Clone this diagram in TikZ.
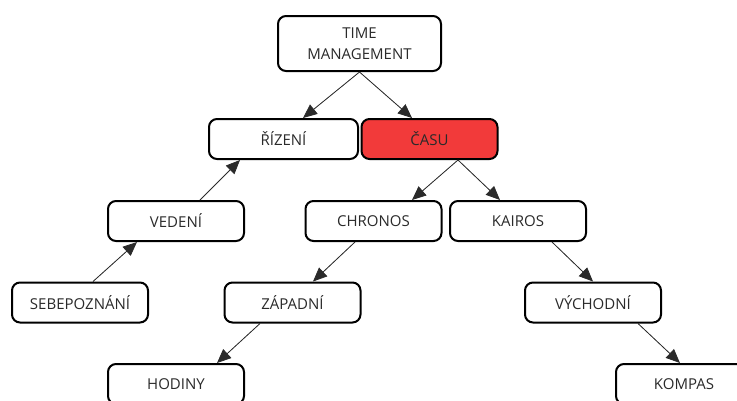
\documentclass[tikz,border=0pt]{standalone}
\usepackage{fontspec}
\setmainfont{Open Sans}
\usetikzlibrary{positioning, arrows.meta}
\definecolor{casred}{HTML}{F23A3A}
\definecolor{txtgray}{HTML}{2A2A2A}

\begin{document}
\begin{tikzpicture}[x=1pt, y=-1pt,
        b/.style={draw=black, fill=white, line width=2pt, rounded corners=8pt, text=txtgray, font=\fontsize{15}{21}\selectfont, minimum width=136pt, minimum height=40pt, align=center, inner sep=0pt},
        a/.style={-{Triangle[length=14pt, width=12pt]}, line width=0.8pt, draw=txtgray, fill=black}]
      \useasboundingbox (0,0) rectangle (737,400);
      \clip (0,0) rectangle (737,400);
      \node[b, minimum width=163pt, minimum height=55pt] (tm) at (359.5,43.5) {TIME\\MANAGEMENT};
      \node[b, minimum width=149pt] (riz) at (283.5,139) {ŘÍZENÍ};
      \node[b, fill=casred] (cas) at (429.5,139) {ČASU};
      \node[b] (ved) at (176,221) {VEDENÍ};
      \node[b] (chr) at (373.5,221) {CHRONOS};
      \node[b] (kai) at (518,221) {KAIROS};
      \node[b] (seb) at (80,302.5) {SEBEPOZNÁNÍ};
      \node[b] (zap) at (292.5,302.5) {ZÁPADNÍ};
      \node[b] (vych) at (593,302.5) {VÝCHODNÍ};
      \node[b] (hod) at (176,384) {HODINY};
      \node[b] (kom) at (684,384) {KOMPAS};
      \draw[a] (tm.south) -- ([xshift=19.5pt]riz.north);
      \draw[a] (tm.south) -- ([xshift=-17.5pt]cas.north);
      \draw[a] ([xshift=24pt]ved.north) -- ([xshift=-43.5pt]riz.south);
      \draw[a] ([xshift=13pt]seb.north) -- ([xshift=-39pt]ved.south);
      \draw[a] ([xshift=28.5pt]cas.south) -- ([xshift=38.5pt]chr.north);
      \draw[a] ([xshift=28.5pt]cas.south) -- ([xshift=-18pt]kai.north);
      \draw[a] ([xshift=-18.5pt]chr.south) -- ([xshift=20.5pt]zap.north);
      \draw[a] ([xshift=-32.5pt]zap.south) -- ([xshift=41pt]hod.north);
      \draw[a] ([xshift=34pt]kai.south) -- (vych.north);
      \draw[a] ([xshift=45pt]vych.south) -- ([xshift=-4pt]kom.north);
    \end{tikzpicture}
\end{document}
